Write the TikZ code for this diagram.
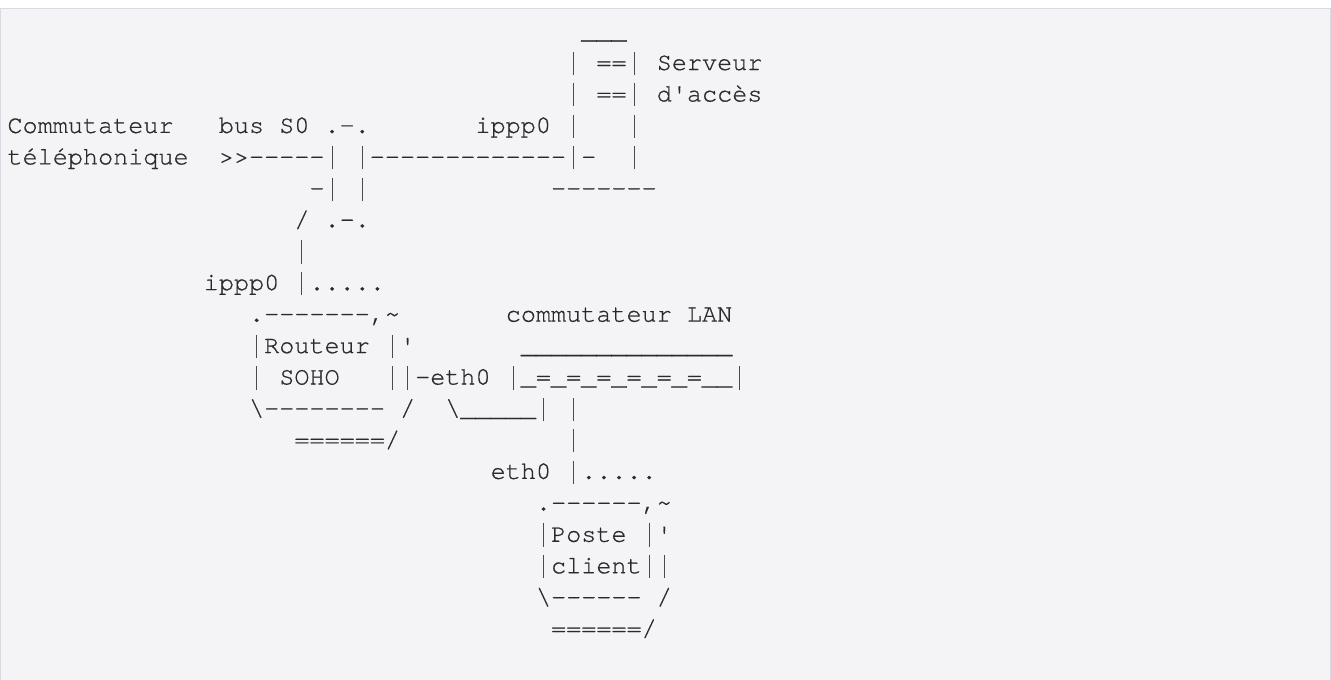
\documentclass[tikz,border=0pt]{standalone}
\usepackage{fontspec}
\setmonofont{texgyrecursor-regular.otf}[FakeBold=0.7]
\definecolor{bgpanel}{HTML}{F4F4F6}
\definecolor{bgframe}{HTML}{D9D9E1}
\definecolor{asctext}{HTML}{2A2A2A}
\definecolor{barcol}{HTML}{4A4A4A}
\tikzset{
  asc/.style={anchor=base west, inner sep=0pt, outer sep=0pt, text=asctext,
    font=\ttfamily\fontsize{25.16}{31}\selectfont}
}
% a full-height vertical bar, one character cell wide
\newcommand\vb{\makebox[0.6em]{\textcolor{barcol}{\rule[-5pt]{0.95pt}{23.3pt}}}}
\newcommand\ascrow[4]{\node[asc] (#1) at ({7.5+15.1*#2}, {-(38.55+31.45*#3)}) {#4};}
\begin{document}
\begin{tikzpicture}[x=1pt,y=1pt]
\useasboundingbox (0,0) rectangle (1331,-680);
\fill[white] (0,0) rectangle (1331,-680);
\fill[bgpanel] (0,-8) rectangle (1331,-680);
\draw[bgframe, line width=1pt] (0.5,-680) -- (0.5,-8.5) -- (1330.5,-8.5) -- (1330.5,-680);
\ascrow{r0}{38}{0}{\_\_\_}
\ascrow{r1}{37}{1}{\vb\ ==\vb\ Serveur}
\ascrow{r2}{37}{2}{\vb\ ==\vb\ d'accès}
\ascrow{r3}{0}{3}{Commutateur\ \ \ bus\ S0\ .-.\ \ \ \ \ \ \ ippp0\ \vb\ \ \ \vb}
\ascrow{r4}{0}{4}{téléphonique\ \ >>-----\vb\ \vb-------------\vb-\ \ \vb}
\ascrow{r5}{20}{5}{-\vb\ \vb\ \ \ \ \ \ \ \ \ \ \ \ -------}
\ascrow{r6}{19}{6}{/\ .-.}
\ascrow{r7}{19}{7}{\vb}
\ascrow{r8}{13}{8}{ippp0\ \vb.....}
\ascrow{r9a}{16}{9}{.-------,\textasciitilde}
\ascrow{r9b}{33}{9}{commutateur\ LAN}
\ascrow{r10a}{16}{10}{\vb Routeur\ \vb'}
\ascrow{r10b}{34}{10}{\_\_\_\_\_\_\_\_\_\_\_\_\_\_}
\ascrow{r11}{16}{11}{\vb\ SOHO\ \ \ \vb\vb-eth0\ \vb\_=\_=\_=\_=\_=\_=\_\_\vb}
\ascrow{r12}{16}{12}{\textbackslash--------\ /\ \ \textbackslash\_\_\_\_\_\vb\ \vb}
\ascrow{r13a}{19}{13}{======/}
\ascrow{r13b}{37}{13}{\vb}
\ascrow{r14}{32}{14}{eth0\ \vb.....}
\ascrow{r15}{35}{15}{.------,\textasciitilde}
\ascrow{r16}{35}{16}{\vb Poste\ \vb'}
\ascrow{r17}{35}{17}{\vb client\vb\vb}
\ascrow{r18}{35}{18}{\textbackslash------\ /}
\ascrow{r19}{36}{19}{======/}
\end{tikzpicture}
\end{document}
